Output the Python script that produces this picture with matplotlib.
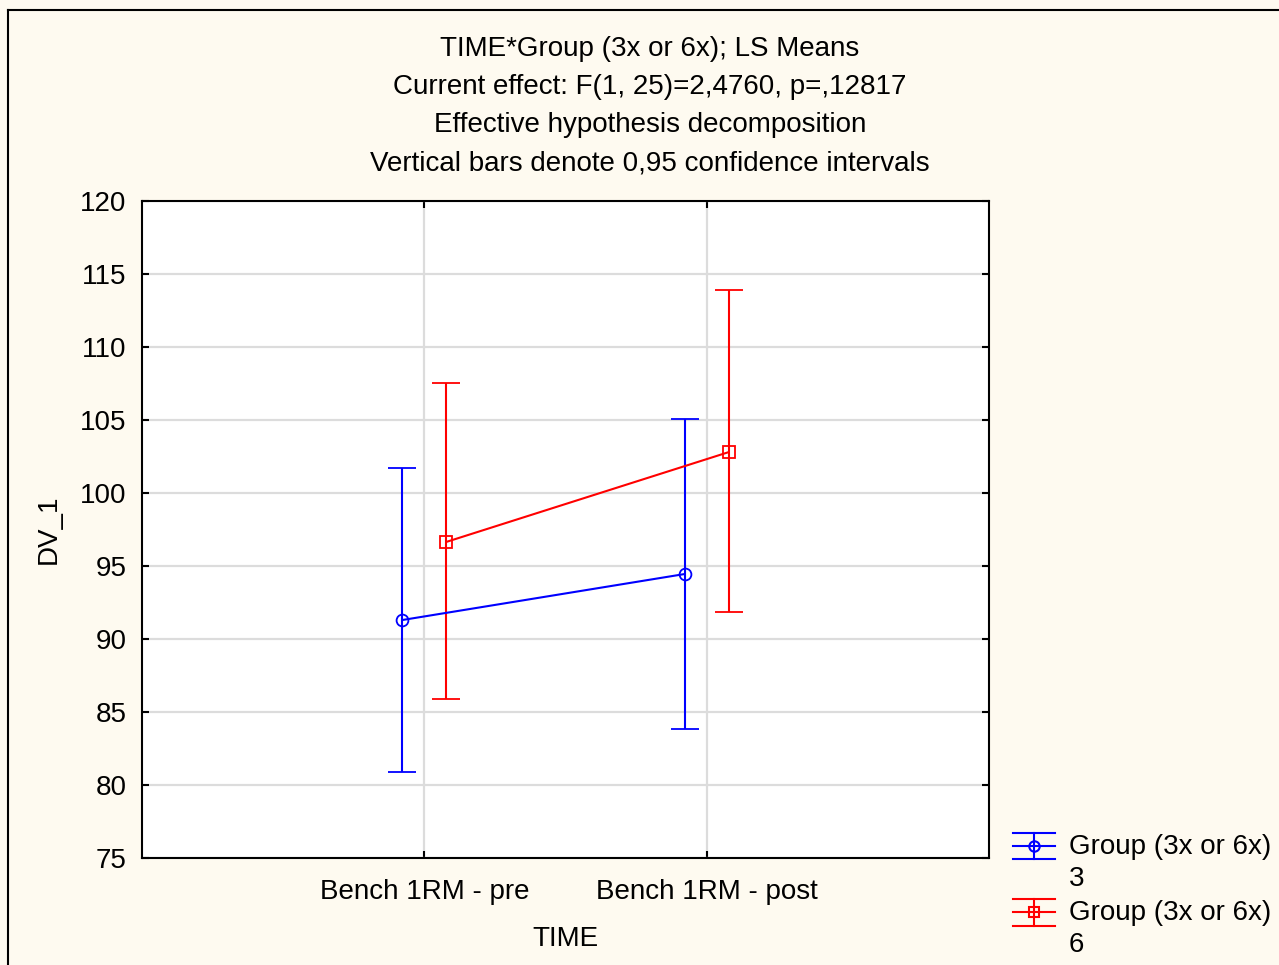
import numpy as np
import matplotlib
matplotlib.use("Agg")
import matplotlib.pyplot as plt
from matplotlib.lines import Line2D
from matplotlib.legend_handler import HandlerBase

plt.rcParams["font.family"] = ["Liberation Sans", "DejaVu Sans"]

# LS means with 0.95 CI
time_labels = ["Bench 1RM - pre", "Bench 1RM - post"]
g3_mean = [91.3, 94.45]
g3_low = [80.9, 83.85]
g3_high = [101.7, 105.1]
g6_mean = [96.65, 102.8]
g6_low = [85.9, 91.85]
g6_high = [107.55, 113.9]
series_labels = ["Group (3x or 6x)\n3", "Group (3x or 6x)\n6"]
title_lines = [
    "TIME*Group (3x or 6x); LS Means",
    "Current effect: F(1, 25)=2,4760, p=,12817",
    "Effective hypothesis decomposition",
    "Vertical bars denote 0,95 confidence intervals",
]

BG = "#FEFAF0"
FS = 20


class ErrbarHandler(HandlerBase):
    # legend key: whisker-style box like the STATISTICA one
    def __init__(self, color, marker):
        super().__init__()
        self.color = color
        self.marker = marker

    def create_artists(self, legend, orig_handle, xdescent, ydescent,
                       width, height, fontsize, trans):
        x0, x1 = -xdescent, -xdescent + width
        # centre on the first text line, not the whole two-line label
        yc = -ydescent + height / 2 + fontsize * 0.62
        dy = fontsize * 0.48
        xm = (x0 + x1) / 2
        arts = []
        for y in (yc - dy, yc, yc + dy):
            arts.append(Line2D([x0, x1], [y, y], color=self.color, lw=1.5))
        arts.append(Line2D([xm, xm], [yc - dy, yc + dy], color=self.color, lw=1.5))
        arts.append(Line2D([xm], [yc], marker=self.marker, ms=7.5, mfc="none",
                           mec=self.color, mew=1.5, color=self.color))
        for a in arts:
            a.set_transform(trans)
        return arts


fig = plt.figure(figsize=(12.79, 9.65), dpi=100, facecolor=BG)
ax = fig.add_axes([142 / 1279, 107 / 965, 847 / 1279, 657 / 965])

x = np.arange(len(time_labels))
off = 0.078
eb_style = dict(capsize=10, elinewidth=1.5, capthick=1.5, lw=1.5,
                ms=8.5, mfc="none", mew=1.3)
ax.errorbar(x - off, g3_mean,
            yerr=[np.subtract(g3_mean, g3_low), np.subtract(g3_high, g3_mean)],
            color="#0000FF", marker="o", **eb_style)
ax.errorbar(x + off, g6_mean,
            yerr=[np.subtract(g6_mean, g6_low), np.subtract(g6_high, g6_mean)],
            color="#FF0000", marker="s", **eb_style)

ax.set_xlim(-1, 2)
ax.set_ylim(75, 120)
ax.set_xticks(x)
ax.set_xticklabels(time_labels)
ax.set_yticks(np.arange(75, 121, 5))
ax.tick_params(direction="in", length=5, width=1.5, labelsize=FS,
               top=True, right=True)
ax.tick_params(axis="y", pad=11)
ax.tick_params(axis="x", pad=15)
ax.grid(True, color="#DCDCDC", lw=1.6)
ax.set_axisbelow(True)
for s in ax.spines.values():
    s.set_linewidth(1.5)

ax.set_xlabel("TIME", fontsize=FS, labelpad=15)
ax.set_ylabel("DV_1", fontsize=FS, labelpad=13)

for i, line in enumerate(title_lines):
    fig.text(650 / 1279, 1 - (48.5 + 38.2 * i) / 965, line, fontsize=FS,
             ha="center", va="center")

handles = [Line2D([], []), Line2D([], [])]
leg = fig.legend(handles, series_labels, loc="upper left",
                 bbox_to_anchor=(1013 / 1279, 1 - 834 / 965),
                 frameon=False, fontsize=FS, handlelength=1.5,
                 handletextpad=0.5, labelspacing=0.3, borderaxespad=0,
                 borderpad=0,
                 handler_map={handles[0]: ErrbarHandler("#0000FF", "o"),
                              handles[1]: ErrbarHandler("#FF0000", "s")})
for t in leg.get_texts():
    t.set_linespacing(1.3)

# outer frame of the graph window
fig.add_artist(Line2D([8 / 1279, 8 / 1279], [0, 1 - 10 / 965],
                      transform=fig.transFigure, color="black", lw=1.5))
fig.add_artist(Line2D([8 / 1279, 1], [1 - 10 / 965, 1 - 10 / 965],
                      transform=fig.transFigure, color="black", lw=1.5))

fig.savefig("out.png", dpi=100, facecolor=BG)
